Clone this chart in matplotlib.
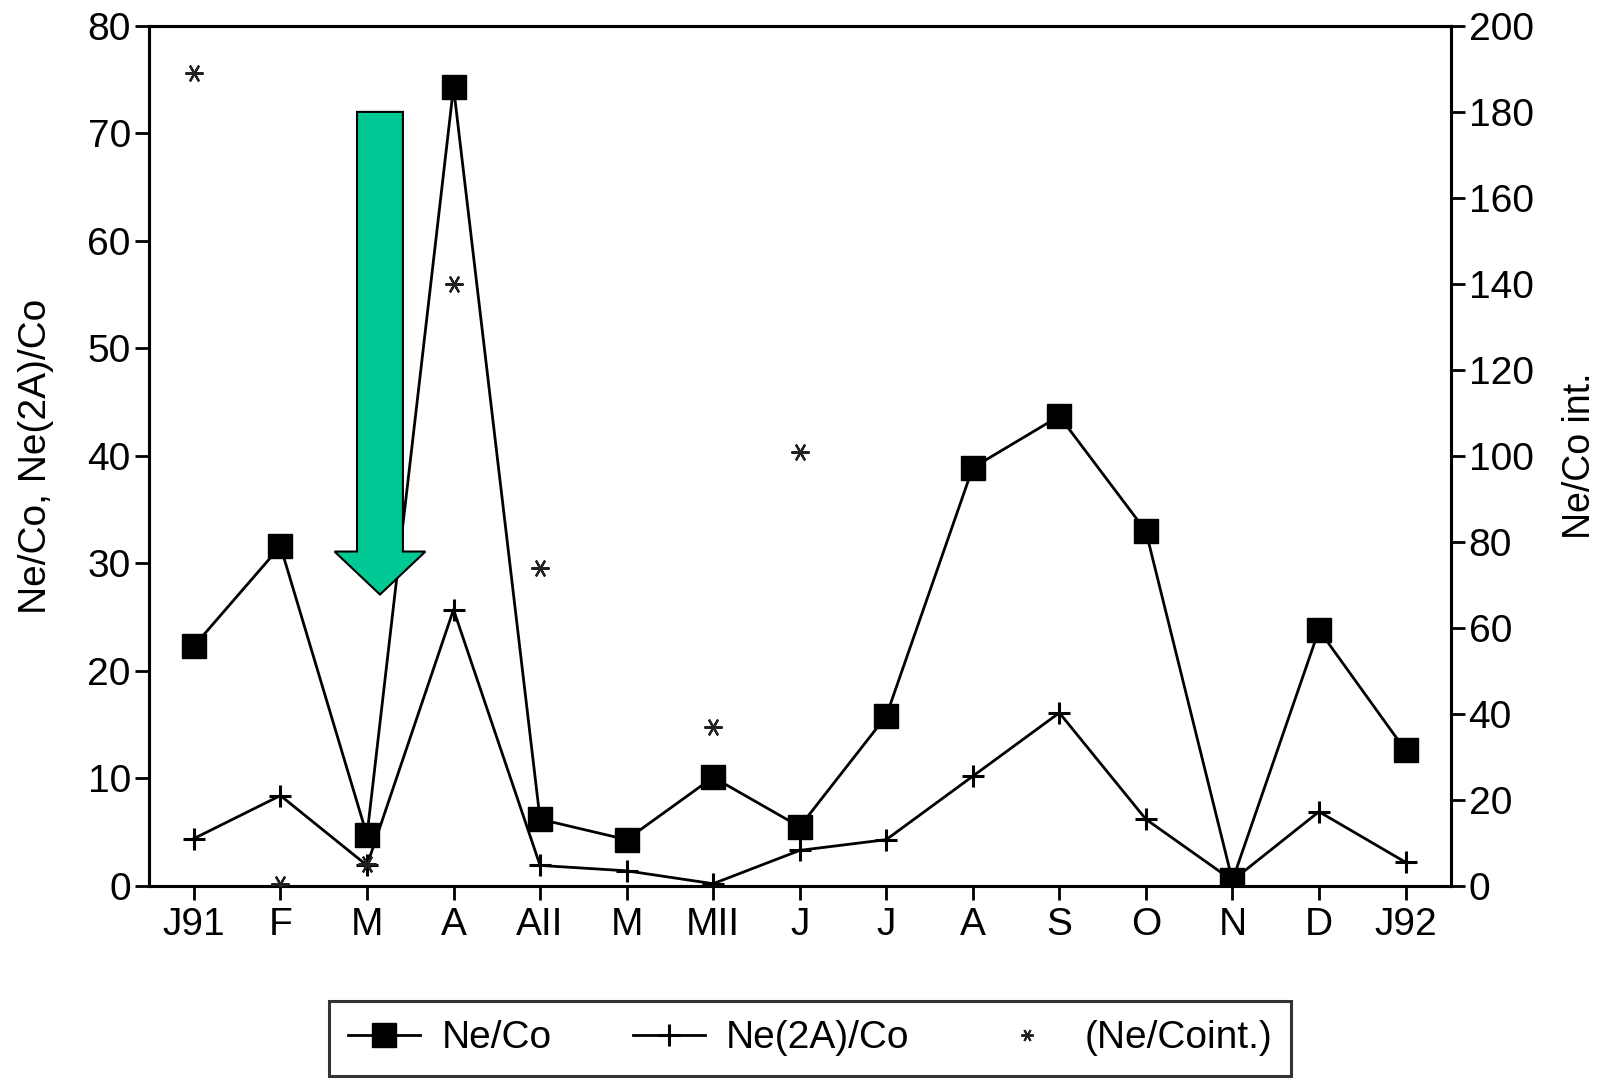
import matplotlib
matplotlib.use('Agg')
import matplotlib.pyplot as plt
from matplotlib.lines import Line2D
from matplotlib.patches import FancyArrow
import numpy as np

plt.rcParams['font.family'] = ['Liberation Sans', 'DejaVu Sans']

# ---- data ----
months = ["J91", "F", "M", "A", "AII", "M", "MII", "J", "J", "A", "S", "O", "N", "D", "J92"]
ne_co = [22.3, 31.6, 4.7, 74.3, 6.2, 4.3, 10.1, 5.5, 15.8, 38.9, 43.7, 33.0, 0.5, 23.8, 12.6]
ne2a_co = [4.4, 8.4, 1.9, 25.7, 1.9, 1.4, 0.2, 3.3, 4.3, 10.2, 16.1, 6.2, 0.5, 6.9, 2.2]
ne_co_int = [189, 0.5, 5, 140, 74, np.nan, 37, 101, np.nan, np.nan, np.nan, np.nan, np.nan, np.nan, np.nan]
left_ticks = [0, 10, 20, 30, 40, 50, 60, 70, 80]
right_ticks = [0, 20, 40, 60, 80, 100, 120, 140, 160, 180, 200]
legend_labels = ["Ne/Co", "Ne(2A)/Co", "(Ne/Coint.)"]

# annotation arrow (left-axis data units)
arrow_x = 2.15
arrow_top = 72.0
arrow_tip = 27.1
arrow_width = 0.53
arrow_head_width = 1.05
arrow_head_length = 4.0
arrow_color = '#00C995'

fig = plt.figure(figsize=(16.01, 10.79), dpi=100)
ax = fig.add_axes([0.093, 0.179, 0.813, 0.797])
ax2 = ax.twinx()
ax2.set_zorder(ax.get_zorder() + 1)
ax2.patch.set_visible(False)

x = np.arange(len(months))
fs = 28

ax.plot(x, ne_co, color='black', lw=2, marker='s', ms=17, mfc='black', mec='black', zorder=3)
ax.plot(x, ne2a_co, color='black', lw=2, marker='+', ms=16, mew=2.2, zorder=3)
ax2.plot(x, ne_co_int, linestyle='none', marker=(6, 2, 90), ms=13, mew=1.6, color='#222222', zorder=3)

ax.set_xlim(-0.52, len(months) - 1 + 0.52)
ax.set_ylim(0, 80)
ax2.set_ylim(0, 200)
ax.set_xticks(x)
ax.set_xticklabels(months)
ax.set_yticks(left_ticks)
ax2.set_yticks(right_ticks)

for a in (ax, ax2):
    for s in a.spines.values():
        s.set_linewidth(2.2)
        s.set_color('black')

ax.tick_params(axis='x', direction='out', length=10, width=2, labelsize=fs, pad=5)
ax.tick_params(axis='y', direction='out', length=10, width=2, labelsize=fs, pad=3)
ax2.tick_params(axis='y', direction='out', length=10, width=2, labelsize=fs, pad=3)

ax.set_ylabel("Ne/Co, Ne(2A)/Co", fontsize=fs)
ax.yaxis.set_label_coords(-0.073, 0.5)
ax2.set_ylabel("Ne/Co int.", fontsize=27)
ax2.yaxis.set_label_coords(1.086, 0.5)

arrow = FancyArrow(arrow_x, arrow_top, 0, arrow_tip - arrow_top, width=arrow_width,
                   head_width=arrow_head_width, head_length=arrow_head_length,
                   length_includes_head=True, facecolor=arrow_color, edgecolor='black',
                   linewidth=1.5, zorder=6, transform=ax.transData)
ax2.add_artist(arrow)

handles = [
    Line2D([], [], color='black', lw=2, marker='s', ms=17),
    Line2D([], [], color='black', lw=2, marker='+', ms=16, mew=2.2),
    Line2D([], [], linestyle='none', marker=(6, 2, 90), ms=9, mew=1.4, color='#222222'),
]
leg = fig.legend(handles, legend_labels, loc='upper center', bbox_to_anchor=(0.506, 0.0723), ncol=3,
                 fontsize=fs, frameon=True, fancybox=False, edgecolor='black', borderaxespad=0,
                 handlelength=1.84, handletextpad=0.55, columnspacing=2.1, borderpad=0.5)
leg.get_frame().set_linewidth(2.2)

fig.savefig('out.png', dpi=100)
